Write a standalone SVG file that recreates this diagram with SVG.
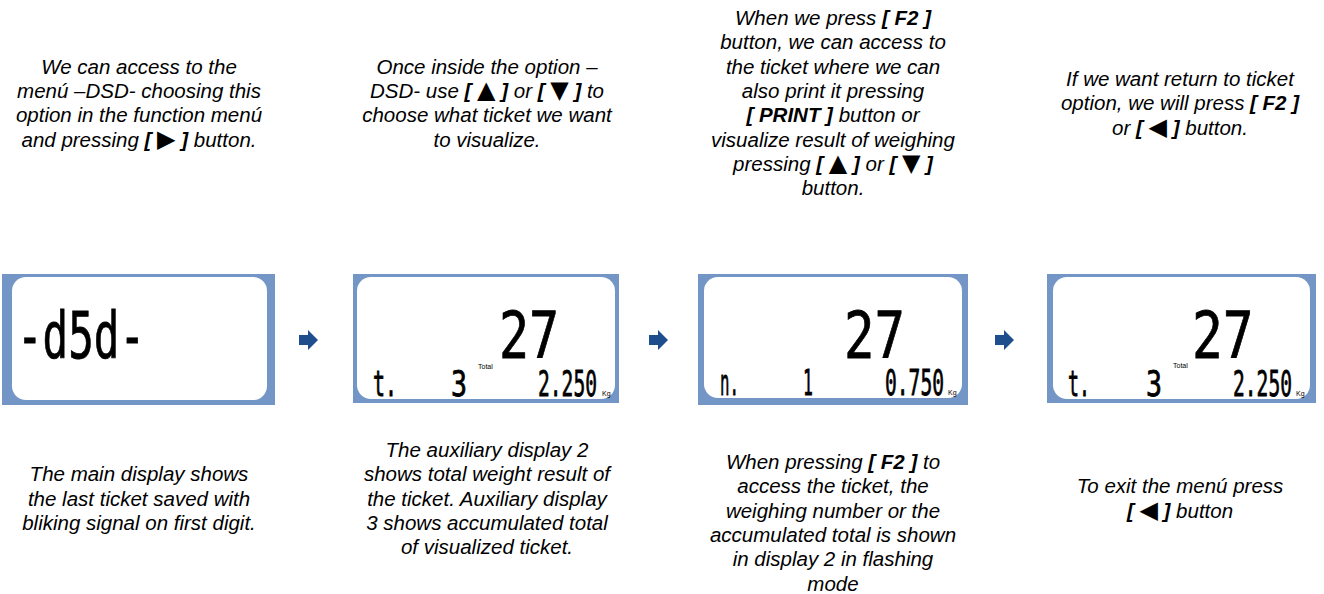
<svg xmlns="http://www.w3.org/2000/svg" width="1324" height="594" viewBox="0 0 1324 594">
<style>
.cap{font-family:"Liberation Sans",Arial,sans-serif;font-style:italic;font-size:20.5px;fill:#000;text-anchor:middle}
.b{font-weight:bold}
.t{font-family:"DejaVu Sans",sans-serif;font-style:normal;font-weight:normal;font-size:24px}
.frame{fill:#7496C6}
.screen{fill:#fff}
.lcd{font-family:"DejaVu Sans Mono",monospace;fill:#000;stroke:#000;stroke-width:0.8}
.big{font-size:64px}
.small{font-size:35px}
.tiny{font-family:"Liberation Sans",Arial,sans-serif;font-size:7px;fill:#000}
.arr{fill:#1F4E8C}
</style>
<rect width="1324" height="594" fill="#fff"/>

<g id="step1-text">
<text class="cap" x="139" y="73.6">We can access to the</text>
<text class="cap" x="139" y="97.9">menú –DSD- choosing this</text>
<text class="cap" x="139" y="122.2">option in the function menú</text>
<text class="cap" x="139" y="146.5">and pressing <tspan class="b">[ <tspan class="t">▶</tspan> ]</tspan> button.</text>
</g>
<g id="step2-text">
<text class="cap" x="487" y="73.6">Once inside the option –</text>
<text class="cap" x="487" y="97.9">DSD- use <tspan class="b">[ <tspan class="t">▲</tspan> ]</tspan> or <tspan class="b">[ <tspan class="t">▼</tspan> ]</tspan> to</text>
<text class="cap" x="487" y="122.2">choose what ticket we want</text>
<text class="cap" x="487" y="146.5">to visualize.</text>
</g>
<g id="step3-text">
<text class="cap" x="833" y="25">When we press <tspan class="b">[ F2 ]</tspan></text>
<text class="cap" x="833" y="49.3">button, we can access to</text>
<text class="cap" x="833" y="73.6">the ticket where we can</text>
<text class="cap" x="833" y="97.9">also print it pressing</text>
<text class="cap" x="833" y="122.2"><tspan class="b">[ PRINT ]</tspan> button or</text>
<text class="cap" x="833" y="146.5">visualize result of weighing</text>
<text class="cap" x="833" y="170.8">pressing <tspan class="b">[ <tspan class="t">▲</tspan> ]</tspan> or <tspan class="b">[ <tspan class="t">▼</tspan> ]</tspan></text>
<text class="cap" x="833" y="195.1">button.</text>
</g>
<g id="step4-text">
<text class="cap" x="1180" y="86">If we want return to ticket</text>
<text class="cap" x="1180" y="110.3">option, we will press <tspan class="b">[ F2 ]</tspan></text>
<text class="cap" x="1180" y="134.6">or <tspan class="b">[ <tspan class="t">◀</tspan> ]</tspan> button.</text>
</g>

<g id="display1">
<rect class="frame" x="2" y="274" width="273" height="131"/>
<rect class="screen" x="12" y="277" width="255" height="123" rx="14"/>
<text class="lcd big" transform="translate(17,358) scale(0.665,1)">-d5d-</text>
</g>
<g id="display2">
<rect class="frame" x="353" y="274" width="266" height="129"/>
<rect class="screen" x="357" y="277" width="258" height="122" rx="14"/>
<text class="lcd big" transform="translate(499,358) scale(0.78,1)">27</text>
<text class="tiny" x="478" y="369">Total</text>
<text class="lcd small" transform="translate(373,396) scale(0.57,1)">t.</text>
<text class="lcd small" transform="translate(451,396) scale(0.76,1)">3</text>
<text class="lcd small" transform="translate(538,396) scale(0.56,1)">2.250</text>
<text class="tiny" x="602" y="396">Kg</text>
</g>
<g id="display3">
<rect class="frame" x="698" y="274" width="270" height="131"/>
<rect class="screen" x="704" y="277" width="258" height="121" rx="14"/>
<text class="lcd big" transform="translate(844,358) scale(0.79,1)">27</text>
<text class="lcd small" transform="translate(720,395) scale(0.45,1)">n.</text>
<text class="lcd small" transform="translate(803,395) scale(0.47,1)">1</text>
<text class="lcd small" transform="translate(885,395) scale(0.56,1)">0.750</text>
<text class="tiny" x="948" y="395">Kg</text>
</g>
<g id="display4">
<rect class="frame" x="1047" y="274" width="269" height="129"/>
<rect class="screen" x="1053" y="277" width="257" height="122" rx="14"/>
<text class="lcd big" transform="translate(1192,358) scale(0.8,1)">27</text>
<text class="tiny" x="1173" y="368">Total</text>
<text class="lcd small" transform="translate(1068,396) scale(0.52,1)">t.</text>
<text class="lcd small" transform="translate(1146,396) scale(0.76,1)">3</text>
<text class="lcd small" transform="translate(1233,396) scale(0.56,1)">2.250</text>
<text class="tiny" x="1296" y="396">Kg</text>
</g>

<g id="connectors">
<polygon class="arr" points="299,335 308,335 308,330 318,340 308,350 308,345 299,345"/>
<polygon class="arr" points="649,335 658,335 658,330 668,340 658,350 658,345 649,345"/>
<polygon class="arr" points="995,335 1004,335 1004,330 1014,340 1004,350 1004,345 995,345"/>
</g>

<g id="step1-caption">
<text class="cap" x="139" y="481.3">The main display shows</text>
<text class="cap" x="139" y="505.6">the last ticket saved with</text>
<text class="cap" x="139" y="529.9">bliking signal on first digit.</text>
</g>
<g id="step2-caption">
<text class="cap" x="487" y="457">The auxiliary display 2</text>
<text class="cap" x="487" y="481.3">shows total weight result of</text>
<text class="cap" x="487" y="505.6">the ticket. Auxiliary display</text>
<text class="cap" x="487" y="529.9">3 shows accumulated total</text>
<text class="cap" x="487" y="554.2">of visualized ticket.</text>
</g>
<g id="step3-caption">
<text class="cap" x="833" y="469">When pressing <tspan class="b">[ F2 ]</tspan> to</text>
<text class="cap" x="833" y="493.3">access the ticket, the</text>
<text class="cap" x="833" y="517.6">weighing number or the</text>
<text class="cap" x="833" y="541.9">accumulated total is shown</text>
<text class="cap" x="833" y="566.2">in display 2 in flashing</text>
<text class="cap" x="833" y="590.5">mode</text>
</g>
<g id="step4-caption">
<text class="cap" x="1180" y="493.3">To exit the menú press</text>
<text class="cap" x="1180" y="517.6"><tspan class="b">[ <tspan class="t">◀</tspan> ]</tspan> button</text>
</g>
</svg>
